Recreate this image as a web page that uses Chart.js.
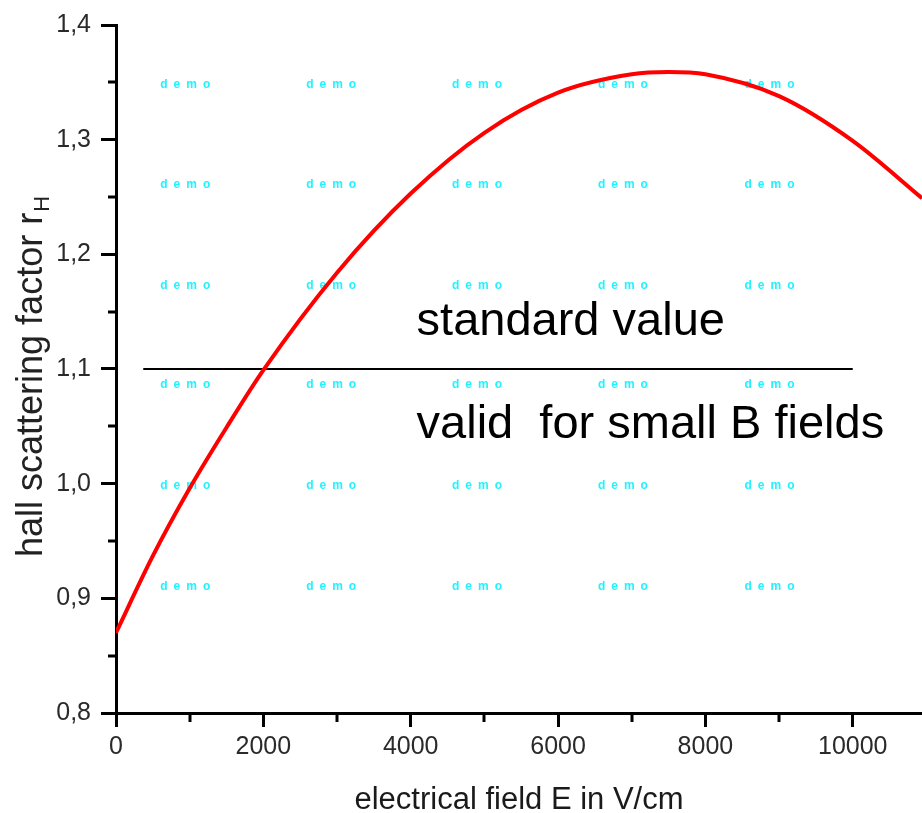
<!DOCTYPE html>
<html>
<head>
<meta charset="utf-8">
<script src="https://cdn.jsdelivr.net/npm/chart.js@4.4.1/dist/chart.umd.min.js"></script>
<style>
  html, body { margin: 0; padding: 0; background: #fff; }
  canvas { display: block; }
</style>
</head>
<body>
<canvas id="hallChart" width="922" height="813"></canvas>
<script>
// Hall scattering factor vs electrical field
const fieldE = [0, 500, 1000, 1500, 2000, 3000, 4000, 5000, 6000, 7000, 7500, 8000, 9000, 10000, 10940];
const hallFactor = [0.870, 0.937, 0.996, 1.049, 1.099, 1.184, 1.253, 1.306, 1.341, 1.357, 1.359, 1.357,
  1.338, 1.299, 1.249];

// axis ticks
const xTicks = [0, 2000, 4000, 6000, 8000, 10000];
const xMinor = [1000, 3000, 5000, 7000, 9000];
const yTicks = [0.8, 0.9, 1.0, 1.1, 1.2, 1.3, 1.4];
const yMinor = [0.85, 0.95, 1.05, 1.15, 1.25, 1.35];

// standard value line
const standardE = [370, 10000];
const standardValue = [1.1, 1.1];

// text notes (data coords, baseline)
const noteTexts = ['standard value', 'valid  for small B fields'];
const noteE = [4080, 4080];
const noteY = [1.130, 1.040];

// "demo" watermark grid
const markE = [940, 2920, 4900, 6880, 8870];
const markY = [1.348, 1.261, 1.173, 1.086, 0.998, 0.910];

const xTitle = 'electrical field E in V/cm';
const yTitle = 'hall scattering factor r';
const ySub = 'H';

const sans = "'Liberation Sans', Arial, sans-serif";

const decor = {
  id: 'decor',
  beforeDatasetsDraw(chart) {
    const { ctx, scales: { x, y } } = chart;
    ctx.save();
    ctx.font = "bold 12px " + sans;
    ctx.letterSpacing = '6px';
    ctx.fillStyle = '#22f2ff';
    ctx.textBaseline = 'middle';
    const w = ctx.measureText('demo').width - 6;
    markY.forEach(vy => {
      markE.forEach(vx => {
        ctx.fillText('demo', x.getPixelForValue(vx) - w / 2, y.getPixelForValue(vy));
      });
    });
    ctx.restore();
  },
  afterDraw(chart) {
    const { ctx, chartArea, scales: { x, y } } = chart;
    ctx.save();
    // minor ticks
    ctx.strokeStyle = '#000';
    ctx.lineWidth = 3;
    ctx.beginPath();
    xMinor.forEach(v => {
      const px = Math.round(x.getPixelForValue(v));
      ctx.moveTo(px, chartArea.bottom);
      ctx.lineTo(px, chartArea.bottom + 9);
    });
    yMinor.forEach(v => {
      const py = Math.round(y.getPixelForValue(v));
      ctx.moveTo(chartArea.left, py);
      ctx.lineTo(chartArea.left - 8, py);
    });
    ctx.stroke();

    // notes
    ctx.fillStyle = '#000';
    ctx.font = "47px " + sans;
    ctx.textBaseline = 'alphabetic';
    noteTexts.forEach((t, i) => {
      ctx.fillText(t, x.getPixelForValue(noteE[i]), y.getPixelForValue(noteY[i]));
    });

    // y title with subscript
    ctx.fillStyle = '#222';
    ctx.translate(42, 377);
    ctx.rotate(-Math.PI / 2);
    ctx.font = "36px " + sans;
    const w = ctx.measureText(yTitle).width;
    ctx.font = "22px " + sans;
    const sw = ctx.measureText(ySub).width;
    const start = -(w + sw) / 2;
    ctx.font = "36px " + sans;
    ctx.fillText(yTitle, start, 0);
    ctx.font = "22px " + sans;
    ctx.fillText(ySub, start + w + 1, 7);
    ctx.restore();
  }
};

new Chart(document.getElementById('hallChart'), {
  type: 'line',
  data: {
    datasets: [{
      data: fieldE.map((v, i) => ({ x: v, y: hallFactor[i] })),
      borderColor: '#ff0000',
      borderWidth: 4,
      pointRadius: 0,
      cubicInterpolationMode: 'monotone',
      fill: false
    }, {
      data: standardE.map((v, i) => ({ x: v, y: standardValue[i] })),
      borderColor: '#000',
      borderWidth: 2,
      pointRadius: 0,
      tension: 0,
      fill: false
    }]
  },
  options: {
    responsive: false,
    devicePixelRatio: 1,
    animation: false,
    events: [],
    layout: { padding: { top: 23, right: 0, left: 0, bottom: 0 } },
    plugins: { legend: { display: false }, tooltip: { enabled: false } },
    scales: {
      x: {
        type: 'linear',
        min: 0,
        max: 10940,
        afterBuildTicks: s => { s.ticks = xTicks.map(v => ({ value: v })); },
        afterFit: s => { s.height = 100; },
        border: { color: '#000', width: 3 },
        grid: { drawOnChartArea: false, tickLength: 14, tickWidth: 3, tickColor: '#000' },
        ticks: {
          maxRotation: 0,
          autoSkip: false,
          padding: 5,
          color: '#2a2a2a',
          font: { family: sans, size: 25 },
          callback: v => String(v)
        },
        title: {
          display: true,
          text: xTitle,
          color: '#1a1a1a',
          font: { family: sans, size: 31 },
          padding: { top: 0, bottom: -6 }
        }
      },
      y: {
        min: 0.8,
        max: 1.4,
        afterBuildTicks: s => { s.ticks = yTicks.map(v => ({ value: v })); },
        afterFit: s => { s.width = 116; },
        border: { color: '#000', width: 3 },
        grid: { drawOnChartArea: false, tickLength: 15, tickWidth: 3, tickColor: '#000' },
        ticks: {
          padding: 10,
          color: '#2a2a2a',
          font: { family: sans, size: 25 },
          callback: v => v.toFixed(1).replace('.', ',')
        }
      }
    }
  },
  plugins: [decor]
});
</script>
</body>
</html>
